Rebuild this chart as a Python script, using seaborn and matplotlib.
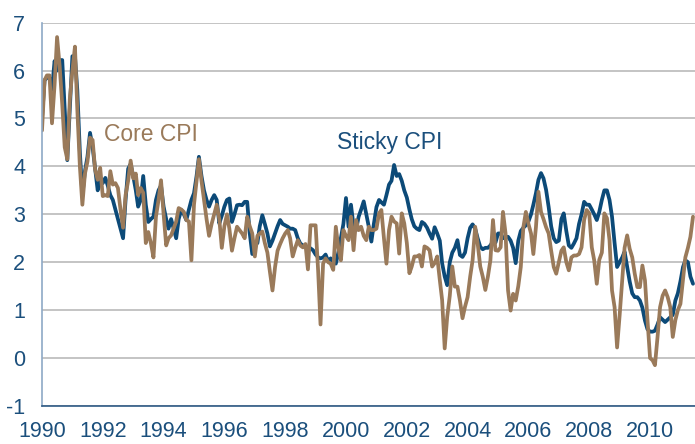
import matplotlib
matplotlib.use("Agg")
import matplotlib.pyplot as plt
import seaborn as sns
import pandas as pd
import numpy as np

# monthly inflation rates (%), Jan 1990 - Jun 2011
core_cpi = [
    4.75, 5.8, 5.9, 5.9, 4.9, 5.7, 6.7, 6.1, 5.3, 4.4, 4.15, 5.4,      # 1990
    6.0, 6.5, 5.2, 4.0, 3.2, 3.85, 4.1, 4.6, 4.55, 3.93, 3.72, 3.97,   # 1991
    3.38, 3.4, 3.38, 3.9, 3.62, 3.65, 3.55, 3.1, 2.72, 3.4, 3.7, 4.12, # 1992
    3.75, 3.85, 3.4, 3.55, 3.45, 2.4, 2.63, 2.4, 2.1, 2.95, 3.3, 3.71, # 1993
    3.0, 2.35, 2.5, 2.56, 2.7, 2.85, 3.13, 3.1, 3.05, 2.88, 2.85, 2.04, # 1994
    3.2, 3.7, 4.15, 3.7, 3.3, 2.9, 2.55, 2.8, 3.0, 3.2, 2.9, 2.3,      # 1995
    2.75, 3.0, 2.7, 2.24, 2.5, 2.74, 2.67, 2.6, 2.5, 2.95, 2.75, 2.6,  # 1996
    2.12, 2.55, 2.6, 2.64, 2.4, 2.2, 1.8, 1.41, 1.9, 2.24, 2.38, 2.5,  # 1997
    2.6, 2.67, 2.5, 2.12, 2.3, 2.46, 2.35, 2.31, 2.38, 1.85, 2.77, 2.77, # 1998
    2.77, 1.8, 0.7, 1.97, 2.08, 2.0, 1.97, 1.84, 2.74, 2.3, 2.04, 2.67,  # 1999
    2.55, 2.46, 2.95, 2.25, 2.88, 2.67, 2.74, 2.55, 2.46, 2.74, 2.67, 2.67, # 2000
    2.7, 3.02, 3.09, 2.5, 1.97, 2.67, 2.95, 2.85, 2.81, 2.18, 3.02, 2.81,   # 2001
    2.4, 1.77, 1.91, 2.12, 2.12, 2.15, 1.91, 2.33, 2.3, 2.25, 1.91, 1.98,   # 2002
    2.12, 1.63, 1.21, 0.2, 0.86, 1.3, 1.91, 1.49, 1.49, 1.2, 0.83, 1.07,    # 2003
    1.27, 1.7, 2.04, 2.74, 2.39, 1.91, 1.7, 1.42, 1.7, 2.04, 2.88, 2.25,    # 2004
    2.24, 2.31, 3.05, 2.6, 1.41, 0.99, 1.34, 1.2, 1.5, 1.9, 2.73, 3.05,     # 2005
    2.8, 2.6, 2.17, 2.73, 3.47, 3.05, 2.9, 2.73, 2.6, 2.24, 1.9, 1.76,      # 2006
    2.0, 2.24, 2.31, 2.0, 1.83, 2.1, 2.14, 2.14, 2.17, 2.31, 2.88, 3.09,    # 2007
    3.02, 2.31, 2.04, 1.55, 2.05, 2.2, 3.02, 2.92, 2.46, 1.41, 1.06, 0.22,  # 2008
    0.9, 1.62, 2.3, 2.56, 2.28, 2.1, 1.76, 1.48, 1.48, 1.93, 1.62, 0.8,     # 2009
    0.0, -0.05, -0.15, 0.44, 1.06, 1.3, 1.41, 1.27, 1.06, 0.44, 0.79, 1.0,  # 2010
    1.13, 1.65, 2.1, 2.3, 2.53, 2.95,                                       # 2011
]

sticky_cpi = [
    5.0, 5.8, 5.85, 5.85, 5.6, 6.2, 6.0, 6.22, 6.22, 5.2, 4.13, 5.2,    # 1990
    6.3, 6.3, 5.6, 4.3, 3.4, 3.9, 4.2, 4.7, 4.4, 3.95, 3.5, 3.69,       # 1991
    3.65, 3.76, 3.6, 3.4, 3.3, 3.1, 2.9, 2.7, 2.5, 3.3, 3.95, 4.05,     # 1992
    3.8, 3.5, 3.16, 3.3, 3.8, 3.2, 2.84, 2.9, 2.95, 3.3, 3.5, 3.6,      # 1993
    3.16, 2.9, 2.7, 2.9, 2.7, 2.5, 2.9, 3.09, 3.0, 2.88, 3.1, 3.3,      # 1994
    3.44, 3.8, 4.2, 3.8, 3.5, 3.3, 3.16, 3.3, 3.4, 3.3, 2.81, 2.97,     # 1995
    3.16, 3.3, 3.33, 2.84, 3.0, 3.19, 3.2, 3.19, 3.26, 3.26, 2.6, 2.17, # 1996
    2.4, 2.4, 2.75, 2.98, 2.8, 2.6, 2.33, 2.45, 2.6, 2.75, 2.88, 2.8,   # 1997
    2.77, 2.74, 2.7, 2.7, 2.67, 2.5, 2.39, 2.35, 2.32, 2.3, 2.29, 2.25, # 1998
    2.16, 2.1, 2.08, 2.1, 2.16, 2.02, 2.08, 2.0, 1.97, 2.2, 2.5, 2.8,   # 1999
    3.34, 2.74, 3.2, 2.75, 2.67, 2.95, 3.1, 3.27, 3.0, 2.74, 2.43, 2.8, # 2000
    3.15, 3.3, 3.25, 3.2, 3.4, 3.62, 3.7, 4.03, 3.8, 3.84, 3.7, 3.5,    # 2001
    3.35, 3.1, 2.9, 2.75, 2.7, 2.67, 2.84, 2.8, 2.72, 2.6, 2.49, 2.73,  # 2002
    2.6, 2.45, 1.98, 1.7, 1.52, 2.0, 2.2, 2.3, 2.46, 2.15, 2.11, 2.2,   # 2003
    2.5, 2.72, 2.79, 2.7, 2.5, 2.32, 2.27, 2.3, 2.3, 2.35, 2.44, 2.41,  # 2004
    2.6, 2.6, 2.5, 2.53, 2.53, 2.45, 2.3, 1.98, 2.45, 2.65, 2.72, 2.77, # 2005
    2.85, 3.0, 3.2, 3.44, 3.72, 3.86, 3.75, 3.51, 3.15, 2.75, 2.5, 2.42, # 2006
    2.45, 2.9, 3.02, 2.65, 2.35, 2.3, 2.39, 2.5, 2.8, 3.0, 3.26, 3.2,   # 2007
    3.2, 3.1, 3.0, 2.88, 3.05, 3.3, 3.5, 3.5, 3.3, 2.95, 2.4, 1.9,      # 2008
    2.0, 2.1, 2.22, 1.9, 1.6, 1.35, 1.27, 1.27, 1.2, 1.05, 0.78, 0.6,   # 2009
    0.55, 0.55, 0.57, 0.7, 0.85, 0.8, 0.75, 0.8, 0.85, 0.9, 1.2, 1.35,  # 2010
    1.6, 1.9, 2.04, 2.0, 1.7, 1.55,                                     # 2011
]

year_ticks = list(range(1990, 2011, 2))
y_ticks = list(range(-1, 8))

blue = "#0C4A78"
brown = "#9A7A5A"
label_blue = "#1B4F7C"

df = pd.DataFrame({
    "date": pd.date_range("1990-01-01", periods=len(core_cpi), freq="MS"),
    "Core CPI": core_cpi,
    "Sticky CPI": sticky_cpi,
})

sns.set_style("white")
plt.rcParams["font.family"] = ["Liberation Sans", "DejaVu Sans"]

fig = plt.figure(figsize=(6.95, 4.44), dpi=100)
ax = fig.add_axes([42 / 695, 1 - 405.9 / 444, 1 - 42 / 695, (405.9 - 22.7) / 444])

sns.lineplot(data=df, x="date", y="Sticky CPI", color=blue, lw=2.7, ax=ax)
sns.lineplot(data=df, x="date", y="Core CPI", color=brown, lw=2.7, ax=ax)

ax.set_ylim(-1, 7)
ax.set_xlim(pd.Timestamp("1990-01-01"), pd.Timestamp("2011-06-25"))
ax.set_yticks(y_ticks)
ax.set_yticklabels([str(t) for t in y_ticks])
ax.set_xticks([pd.Timestamp(f"{y}-01-01") for y in year_ticks])
ax.set_xticklabels([str(y) for y in year_ticks])
ax.set_xlabel("")
ax.set_ylabel("")

ax.yaxis.grid(True, color="#C4C4C4", lw=1.4)
ax.xaxis.grid(False)
ax.set_axisbelow(True)

for side in ["top", "right"]:
    ax.spines[side].set_visible(False)
ax.spines["left"].set_color("#8EA9C6")
ax.spines["left"].set_linewidth(1.2)
ax.spines["bottom"].set_color("#2E5A85")
ax.spines["bottom"].set_linewidth(1.2)

ax.tick_params(axis="x", direction="in", length=4, width=1, color="#2E5A85",
               labelsize=15.5, labelcolor=label_blue, pad=11)
ax.tick_params(axis="y", length=0, labelsize=15.5, labelcolor=label_blue, pad=12)

ax.text(pd.Timestamp("1992-01-15"), 4.52, "Core CPI", color=brown, fontsize=16.5,
        ha="left", va="baseline")
ax.text(pd.Timestamp("1999-09-10"), 4.36, "Sticky CPI", color=label_blue, fontsize=16.5,
        ha="left", va="baseline")

fig.savefig("out.png", dpi=100)
